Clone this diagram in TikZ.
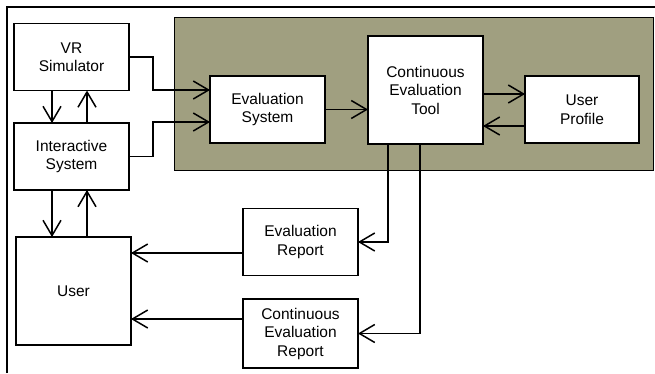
\documentclass[tikz,border=0pt]{standalone}
\usepackage{fontspec}
\setmainfont{Liberation Sans}
\usetikzlibrary{arrows.meta}

\definecolor{panel}{RGB}{160,159,128}

% plain open V head
\pgfdeclarearrow{
  name = Vee Open,
  parameters = {\the\pgfarrowlength,\the\pgfarrowwidth},
  setup code = {
    \pgfarrowssettipend{0pt}
    \pgfarrowssetlineend{-0.7pt}
    \pgfarrowssavethe\pgfarrowlength
    \pgfarrowssavethe\pgfarrowwidth
  },
  drawing code = {
    \pgfsetdash{}{0pt}
    \pgfsetroundjoin
    \pgfpathmoveto{\pgfqpoint{-\pgfarrowlength}{.5\pgfarrowwidth}}
    \pgfpathlineto{\pgfqpoint{-0.7pt}{0pt}}
    \pgfpathlineto{\pgfqpoint{-\pgfarrowlength}{-.5\pgfarrowwidth}}
    \pgfusepathqstroke
  },
  defaults = {length=16pt, width=17pt}
}

\tikzset{
  box/.style={draw, line width=1.5pt, fill=white, align=center, inner sep=0pt,
    minimum width=115pt, minimum height=67pt, font=\fontsize{15.5}{18.5}\selectfont},
  tall/.style={box, minimum height=108pt},
  link/.style={line width=1.5pt},
  arr/.style={link, -{Vee Open[length=16pt,width=18pt]}},
}

\begin{document}
\begin{tikzpicture}[x=1pt,y=-1pt]
  \useasboundingbox (0,0) rectangle (655,373);
  % frame and tool panel
  \draw[line width=2.5pt] (7,373) -- (7,7) -- (655,7);
  \draw[fill=panel, line width=0.9pt] (174,17) rectangle (653,170);

  \node[box] (vr) at (71.5,57) {VR\\Simulator};
  \node[box] (is) at (71.5,156.5) {Interactive\\System};
  \node[tall] (user) at (73.5,291) {User};
  \node[box] (eval) at (267.5,109.5) {Evaluation\\System};
  \node[tall] (cet) at (425.5,90) {Continuous\\Evaluation\\Tool};
  \node[box, minimum width=114pt] (prof) at (582,109.5) {User\\Profile};
  \node[box] (er) at (300.5,242) {Evaluation\\Report};
  \node[box, minimum height=69pt] (cer) at (300.5,333.5) {Continuous\\Evaluation\\Report};

  % helper positions
  \coordinate (dn) at (52,0);
  \coordinate (upc) at (87,0);
  \coordinate (bend) at (153,0);
  \coordinate (inA) at (0,90);
  \coordinate (inB) at (0,122);
  \coordinate (pfA) at (0,94);
  \coordinate (pfB) at (0,126);
  \coordinate (tapA) at (388,0);
  \coordinate (tapB) at (420,0);
  \coordinate (rowA) at (0,253);
  \coordinate (rowB) at (0,319);

  \draw[arr] (dn |- vr.south) -- (dn |- is.north);
  \draw[arr] (upc |- is.north) -- (upc |- vr.south);
  \draw[arr] (dn |- is.south) -- (dn |- user.north);
  \draw[arr] (upc |- user.north) -- (upc |- is.south);

  \draw[arr] (vr.east) -- (bend |- vr.east) |- (eval.west |- inA);
  \draw[arr] (is.east) -- (bend |- is.east) |- (eval.west |- inB);
  \draw[arr] (eval.east) -- (eval.east -| cet.west);
  \draw[arr] (cet.east |- pfA) -- (prof.west |- pfA);
  \draw[arr] (prof.west |- pfB) -- (cet.east |- pfB);

  \draw[arr] (tapA |- cet.south) |- (er.east);
  \draw[arr] (tapB |- cet.south) |- (cer.east);
  \draw[arr] (er.west |- rowA) -- (user.east |- rowA);
  \draw[arr] (cer.west |- rowB) -- (user.east |- rowB);
\end{tikzpicture}
\end{document}
